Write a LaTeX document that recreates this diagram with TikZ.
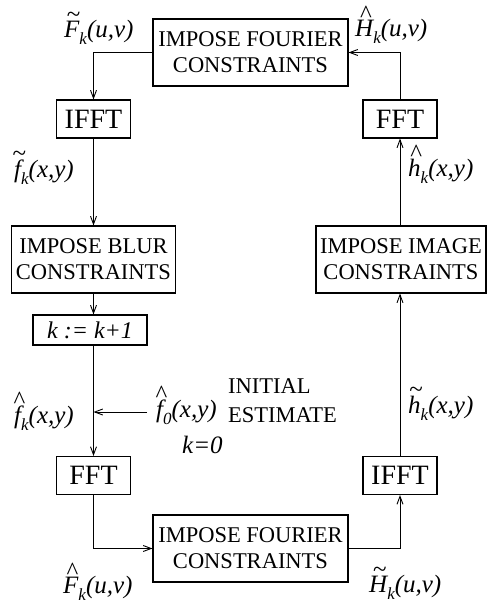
\documentclass[tikz,border=0pt]{standalone}
\usepackage{fontspec}
\setmainfont{Liberation Serif}
\usetikzlibrary{arrows.meta}
\newcommand\hatac[2][0.56em]{{\ooalign{#2\cr\hidewidth\kern0.14em\raisebox{#1}{\upshape\char"5E}\hidewidth\cr}}}
\newcommand\tildac[2][0.6em]{{\ooalign{#2\cr\hidewidth\kern0.14em\raisebox{#1}{\upshape\char"7E}\hidewidth\cr}}}
\newcommand\sbs[1]{\raisebox{-0.3em}{\fontsize{17}{17}\selectfont\itshape #1}}
\tikzset{
  box/.style={draw, line width=1.1pt, inner sep=0pt, align=center,
    font=\fontsize{22.5}{26}\selectfont},
  fftbox/.style={draw, line width=1.1pt, inner sep=0pt, minimum width=74pt,
    minimum height=38pt, font=\fontsize{28}{30}\selectfont},
  lab/.style={inner sep=0pt, anchor=base west, font=\fontsize{25}{28}\selectfont\itshape},
  txt/.style={inner sep=0pt, anchor=base west, font=\fontsize{22.5}{26}\selectfont},
  conn/.style={line width=0.9pt, -{Straight Barb[length=8pt,width=6pt]}}
}
\begin{document}
\begin{tikzpicture}[x=1pt,y=-1pt]
\useasboundingbox (0,0) rectangle (490,605);
% boxes
\node[box, minimum width=195pt, minimum height=67pt] (topF) at (250.5,52.5) {IMPOSE FOURIER\\CONSTRAINTS};
\node[fftbox] (ifftA) at (93.5,119) {IFFT};
\node[fftbox] (fftB) at (400,119) {FFT};
\node[box, minimum width=164pt, minimum height=67pt] (blur) at (93.5,259.5) {IMPOSE BLUR\\CONSTRAINTS};
\node[box, minimum width=170pt, minimum height=67pt] (image) at (401,259.5) {IMPOSE IMAGE\\CONSTRAINTS};
\node[box, minimum width=114pt, minimum height=30pt, font=\fontsize{24}{26}\selectfont\itshape] (kbox) at (90,330) {k := k+1};
\node[fftbox] (fftA) at (93.5,475.5) {FFT};
\node[fftbox] (ifftB) at (400,475.5) {IFFT};
\node[box, minimum width=195pt, minimum height=67pt] (botF) at (250.5,548.5) {IMPOSE FOURIER\\CONSTRAINTS};
% labels
\node[lab] (lFt) at (64,37) {\tildac{F}\sbs{k}(u,v)};
\node[lab] (lHh) at (355,36) {\hatac{H}\sbs{k}(u,v)};
\node[lab] (lft) at (14,177) {\tildac[0.64em]{f}\sbs{k}(x,y)};
\node[lab] (lhh) at (408,176) {\hatac[0.6em]{h}\sbs{k}(x,y)};
\node[lab] (lfh) at (14,423) {\hatac[0.6em]{f}\sbs{k}(x,y)};
\node[lab] (lf0) at (156,417) {\hatac[0.6em]{f}\sbs{0}(x,y)};
\node[txt] (init) at (228,393) {INITIAL};
\node[txt] (est) at (228,422) {ESTIMATE};
\node[lab] (k0) at (182,453) {k=0};
\node[lab] (lFh) at (63,593) {\hatac{F}\sbs{k}(u,v)};
\node[lab] (lHt) at (369,592) {\tildac{H}\sbs{k}(u,v)};
\node[lab] (lht) at (408,413) {\tildac[0.64em]{h}\sbs{k}(x,y)};
% connectors
\coordinate (inA) at (147,412);
\draw[conn] (topF.west) -| (ifftA.north);
\draw[conn] (fftB.north) |- (topF.east);
\draw[conn] (ifftA.south) -- (blur.north -| ifftA.south);
\draw[conn] (blur.south -| ifftA.south) -- (kbox.north -| ifftA.south);
\draw[conn] (kbox.south -| ifftA.south) -- (fftA.north);
\draw[conn] (inA) -- (inA -| fftA.north);
\draw[conn] (fftA.south) |- (botF.west);
\draw[conn] (botF.east) -| (ifftB.south);
\draw[conn] (ifftB.north) -- (image.south -| ifftB.north);
\draw[conn] (image.north -| fftB.south) -- (fftB.south);
\end{tikzpicture}
\end{document}
